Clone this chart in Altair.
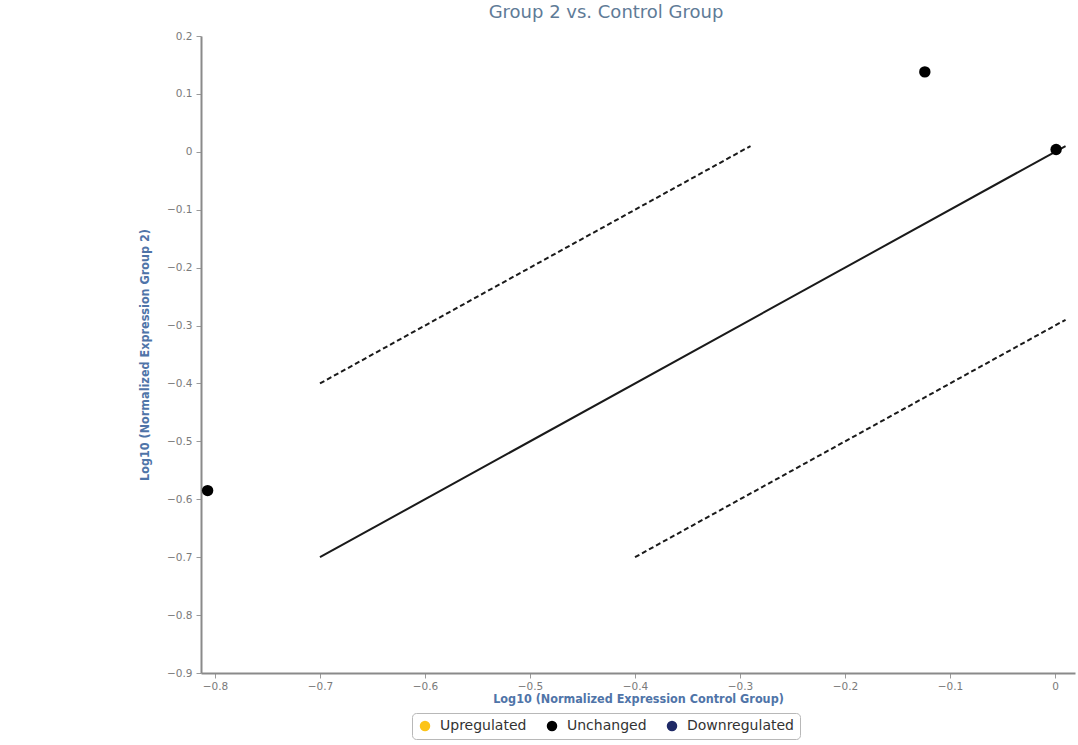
import altair as alt
import pandas as pd

# Gene expression points (log10 normalized expression)
control_expr = [-0.807, -0.124, 0.001]
group2_expr = [-0.585, 0.138, 0.004]
status = ["Unchanged", "Unchanged", "Unchanged"]

# Reference lines: identity and fold-change boundaries
line_ids = ["identity", "identity", "upper", "upper", "lower", "lower"]
line_x = [-0.70, 0.01, -0.70, -0.29, -0.40, 0.01]
line_y = [-0.70, 0.01, -0.40, 0.01, -0.70, -0.29]
line_style = ["solid", "solid", "dashed", "dashed", "dashed", "dashed"]

categories = ["Upregulated", "Unchanged", "Downregulated"]
cat_colors = ["#fcc419", "#000000", "#1f2a66"]

x_ticks = [-0.8, -0.7, -0.6, -0.5, -0.4, -0.3, -0.2, -0.1, 0.0]
y_ticks = [0.2, 0.1, 0.0, -0.1, -0.2, -0.3, -0.4, -0.5, -0.6, -0.7, -0.8, -0.9]

points = pd.DataFrame({"control": control_expr, "group2": group2_expr, "status": status})
lines = pd.DataFrame({"line": line_ids, "control": line_x, "group2": line_y, "style": line_style})

axis_common = dict(
    domainColor="#8a8a8a", domainWidth=2, tickColor="#9a9a9a", tickSize=5,
    labelColor="#7a7a7a", labelFontSize=10.5, labelFont="DejaVu Sans",
    titleColor="#4f74a8", titleFont="DejaVu Sans Condensed", titleFontSize=12.5,
    titleFontWeight="bold", grid=False, format=".1~f",
)

x_enc = alt.X("control:Q", scale=alt.Scale(domain=[-0.8133, 0.019], nice=False, zero=False),
              axis=alt.Axis(values=x_ticks, title="Log10 (Normalized Expression Control Group)",
                            labelPadding=3, titlePadding=1, **axis_common))
y_enc = alt.Y("group2:Q", scale=alt.Scale(domain=[-0.9, 0.2], nice=False, zero=False),
              axis=alt.Axis(values=y_ticks, title="Log10 (Normalized Expression Group 2)",
                            labelPadding=4, titlePadding=15, **axis_common))

solid = alt.Chart(lines[lines["style"] == "solid"]).mark_line(
    color="#1a1a1a", strokeWidth=2
).encode(x=x_enc, y=y_enc, detail="line:N")

dashed = alt.Chart(lines[lines["style"] == "dashed"]).mark_line(
    color="#1a1a1a", strokeWidth=2, strokeDash=[5, 3]
).encode(x=x_enc, y=y_enc, detail="line:N")

dots = alt.Chart(points).mark_circle(size=130, opacity=1).encode(
    x=x_enc, y=y_enc,
    color=alt.Color("status:N", scale=alt.Scale(domain=categories, range=cat_colors),
                    legend=alt.Legend(
                        title=None, orient="none", direction="horizontal",
                        legendX=211, legendY=677, symbolType="circle", symbolSize=110,
                        symbolStrokeWidth=0, labelFont="DejaVu Sans", labelFontSize=14,
                        labelColor="#333333", strokeColor="#b8b8b8", cornerRadius=4,
                        padding=6, columnPadding=18, labelOffset=8, fillColor="#ffffff",
                    )),
)

chart = alt.layer(solid, dashed, dots).properties(
    width=874, height=637,
    view=alt.ViewBackground(stroke="transparent", strokeWidth=0),
    title=alt.Title("Group 2 vs. Control Group", font="DejaVu Sans", fontSize=18,
                    fontWeight="normal", color="#5f7b97", dx=-32, offset=9),
    autosize=alt.AutoSizeParams(type="none"),
    padding={"left": 201, "top": 36, "right": 3, "bottom": 72},
).configure_view(strokeWidth=0, stroke="transparent").configure(background="#ffffff")

chart.save("out.html", embed_options={"renderer": "svg", "actions": False})
